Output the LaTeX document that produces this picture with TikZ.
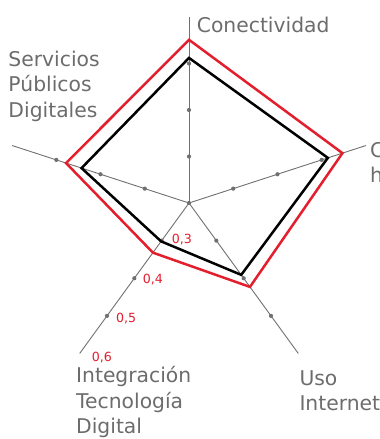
\documentclass[tikz,border=0pt]{standalone}
\usepackage{fontspec}
\setmainfont{DejaVu Sans}
\usepackage{tikz}
\usetikzlibrary{positioning}
\definecolor{axisgray}{RGB}{112,112,112}
\definecolor{labelgray}{RGB}{108,108,108}
\definecolor{goalred}{RGB}{227,30,45}
\tikzstyle{axis_line}=[draw=axisgray, line width=0.9pt]
\tikzstyle{axis_tick}=[circle, fill=axisgray, inner sep=0pt, minimum size=4.2pt]
\tikzstyle{dim_label}=[text=labelgray, font=\fontsize{20.3}{25.3}\selectfont, align=left, inner sep=0pt, anchor=base west]
\tikzstyle{value_label}=[text=goalred, font=\fontsize{12.6}{14}\selectfont, inner sep=0pt, anchor=west]
\tikzstyle{score_red}=[draw=goalred, line width=2.5pt]
\tikzstyle{score_black}=[draw=black, line width=2.5pt]

\begin{document}
\begin{tikzpicture}[x=1pt,y=1pt]
\useasboundingbox (-189,-236) rectangle (191,203);
\begin{scope}
\clip (-189,-236) rectangle (191,203);
\node[axis_tick] (ctr) at (0,0){};
\foreach \ang [count=\i] in {90,18,-54,-126,162} {
  \coordinate (ax\i) at (\ang:186);
  \draw[axis_line] (ctr.center) -- (ax\i);
  \foreach \k in {1,2,3} \node[axis_tick] (tk\i\k) at (\ang:46.5*\k){};
}
\foreach \ang/\v [count=\i] in {90/0.551,18/0.547,-54/0.423,-126/0.332,162/0.478}
  \coordinate (red\i) at (\ang:{(\v-0.2)*465});
\foreach \ang/\v [count=\i] in {90/0.512,18/0.514,-54/0.391,-126/0.302,162/0.443}
  \coordinate (blk\i) at (\ang:{(\v-0.2)*465});
\draw[score_red](red1) -- (red2) -- (red3) -- (red4) -- (red5) -- cycle;
\draw[score_black](blk1) -- (blk2) -- (blk3) -- (blk4) -- (blk5) -- cycle;
\node[dim_label] (conect) at (7.7,170.7){Conectividad};
\node[dim_label] (capital) at (181,20){Capital\\humano};
\node[dim_label] (uso) at (110.3,-207.7){Uso\\Internet};
\node[dim_label] (integ) at (-113,-230.3){Integración\\Tecnología\\Digital};
\node[dim_label] (servic) at (-180.7,85.7){Servicios\\Públicos\\Digitales};
\node[value_label] (v3) at (-17.3,-36.8){0,3};
\node[value_label] (v4) at (-46.3,-76.3){0,4};
\node[value_label] (v5) at (-73,-115.3){0,5};
\node[value_label] (v6) at (-97.3,-154.3){0,6};
\end{scope}
\end{tikzpicture}
\end{document}
